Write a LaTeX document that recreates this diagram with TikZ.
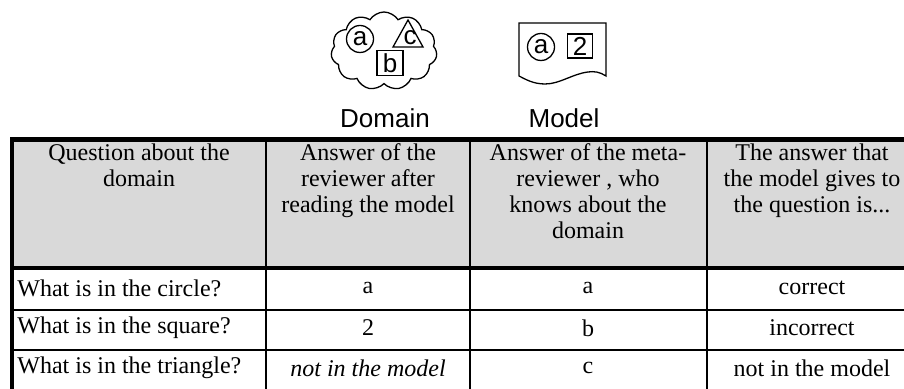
\documentclass[tikz,border=0pt]{standalone}
\usepackage{fontspec}
\setmainfont{Liberation Serif}
\setsansfont{Liberation Sans}
\usetikzlibrary{shapes.symbols,shapes.geometric}

\tikzset{
  pict/.style={draw,line width=0.65pt},
  letter/.style={font=\sffamily\fontsize{13}{13}\selectfont,inner sep=0.5pt},
  caption/.style={font=\sffamily\fontsize{13}{15}\selectfont},
  heavy/.style={line width=2pt},
  rule/.style={line width=1pt},
  hdr/.style={anchor=north,align=center,inner sep=0pt,font=\fontsize{12}{13}\selectfont},
  cell/.style={font=\fontsize{12}{14}\selectfont},
}

\begin{document}
\begin{tikzpicture}[x=0.5pt,y=-0.5pt]
\useasboundingbox (0,0) rectangle (904,389);
% domain cloud
\node[cloud,pict,cloud puffs=11,cloud puff arc=115,aspect=1.35,
  minimum width=53pt,minimum height=39pt] (domain) at (384,51) {};
\node[circle,pict,letter,minimum size=13.5pt] (dA) at (360,39) {a};
\draw[pict] (393,47) -- (423,47) -- (408,20) -- cycle;
\node[letter] (dC) at (410,38) {c};
\node[rectangle,pict,letter,minimum width=13pt,minimum height=12.5pt] (dB) at (390,63) {b};
\node[caption] (domlab) at (385,118) {Domain};
% model document
\draw[pict] (519,23) -- (606,23) -- (606,76)
  .. controls (600,72) and (594,71) .. (588,72)
  .. controls (572,74) and (560,84) .. (545,84)
  .. controls (533,84) and (525,79) .. (519,76) -- cycle;
\node[circle,pict,letter,minimum size=13.5pt] (mA) at (541,47) {a};
\node[rectangle,pict,letter,minimum width=12.5pt,minimum height=12pt] (m2) at (580,46) {2};
\node[caption] (modlab) at (564,118) {Model};
% table
\fill[gray!30] (12,139) rectangle (930,268);
\foreach \x in {266,470,707}
  \draw[rule] (\x,139) -- (\x,395);
\foreach \y in {310,350}
  \draw[rule] (12,\y) -- (930,\y);
\draw[line width=2.5pt] (10,139.5) -- (930,139.5);
\draw[heavy] (10,268) -- (930,268);
\draw[heavy] (12,138) -- (12,395);
% header
\node[hdr] (q) at (139,143) {Question about the\\domain};
\node[hdr] (r) at (368,143) {Answer of the\\reviewer after\\reading the model};
\node[hdr] (m) at (588,143) {Answer of the meta-\\reviewer , who\\knows about the\\domain};
\node[hdr] (g) at (812,143) {The answer that\\the model gives to\\the question is...};
% rows
\node[cell,anchor=west,inner sep=0pt] (q1) at (17,288) {What is in the circle?};
\node[cell,anchor=west,inner sep=0pt] (q2) at (17,328) {What is in the square?};
\node[cell,anchor=west,inner sep=0pt] (q3) at (17,368) {What is in the triangle?};
\node[cell] (r1) at (368,288) {a};
\node[cell] (r2) at (368,328) {2};
\node[cell] (r3) at (368,368) {\itshape not in the model};
\node[cell] (m1) at (588,288) {a};
\node[cell] (m2t) at (588,328) {b};
\node[cell] (m3) at (588,368) {c};
\node[cell] (g1) at (812,288) {correct};
\node[cell] (g2) at (812,328) {incorrect};
\node[cell] (g3) at (812,368) {not in the model};
\end{tikzpicture}
\end{document}
